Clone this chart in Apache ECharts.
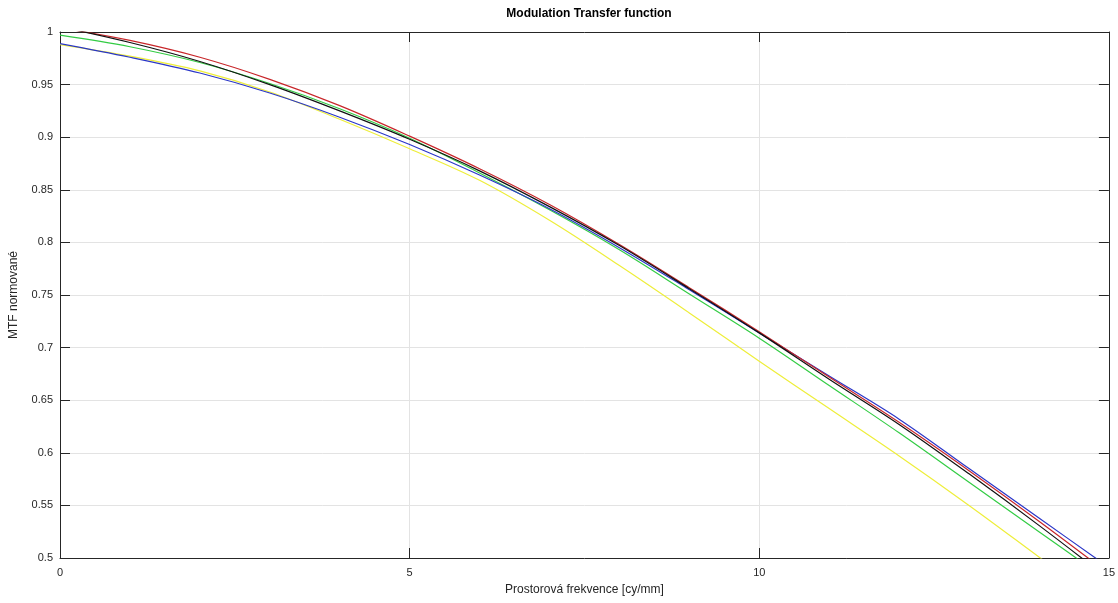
<!DOCTYPE html>
<html>
<head>
<meta charset="utf-8">
<script src="https://cdn.jsdelivr.net/npm/echarts@6/dist/echarts.min.js"></script>
<style>
html,body{margin:0;padding:0;background:#fff;}
#chart{width:1118px;height:603px;}
</style>
</head>
<body>
<div id="chart"></div>
<script>
var titleText = 'Modulation Transfer function';
var xAxisName = 'Prostorová frekvence [cy/mm]';
var yAxisName = 'MTF normované';

var freq = [0, 1, 2, 3, 4, 5, 6, 7, 8, 9, 10, 11, 12, 13, 14, 15];

var yellowMTF = [0.988, 0.977, 0.963, 0.943, 0.917, 0.889, 0.859, 0.821, 0.778, 0.733, 0.687, 0.642, 0.597, 0.550, 0.501, 0.452];
var greenMTF  = [0.997, 0.986, 0.971, 0.951, 0.927, 0.899, 0.866, 0.831, 0.793, 0.751, 0.709, 0.664, 0.619, 0.572, 0.525, 0.478];
var blueMTF   = [0.989, 0.976, 0.961, 0.942, 0.919, 0.893, 0.864, 0.832, 0.795, 0.755, 0.714, 0.673, 0.632, 0.585, 0.538, 0.491];
var redMTF    = [1.004, 0.992, 0.976, 0.955, 0.930, 0.901, 0.870, 0.836, 0.798, 0.757, 0.715, 0.672, 0.629, 0.583, 0.535, 0.485];
var blackMTF  = [1.005, 0.990, 0.972, 0.950, 0.925, 0.898, 0.868, 0.834, 0.797, 0.756, 0.714, 0.670, 0.627, 0.580, 0.531, 0.480];

var seriesNames  = ['yellow', 'green', 'blue', 'red', 'black'];
var seriesValues = [yellowMTF, greenMTF, blueMTF, redMTF, blackMTF];
var seriesColors = ['#eeee3a', '#33cc44', '#2a36c8', '#c8262a', '#111111'];

var xTicks = {min: 0, max: 15, interval: 5};
var yTicks = {min: 0.5, max: 1, interval: 0.05};

var font = '"Liberation Sans", Arial, Helvetica, sans-serif';
var axisColor = '#262626';

function pairs(vals) {
  return freq.map(function (x, i) { return [x, vals[i]]; });
}

var chart = echarts.init(document.getElementById('chart'), null, {renderer: 'canvas'});

var series = seriesNames.map(function (n, i) {
  return {
    name: n,
    type: 'line',
    xAxisIndex: 0,
    yAxisIndex: 0,
    data: pairs(seriesValues[i]),
    smooth: 0.35,
    showSymbol: false,
    symbol: 'none',
    clip: true,
    lineStyle: {color: seriesColors[i], width: 1.2},
    itemStyle: {color: seriesColors[i]},
    emphasis: {disabled: true},
    z: 3 + i
  };
});

chart.setOption({
  animation: false,
  backgroundColor: '#ffffff',
  textStyle: {fontFamily: font},
  title: {
    text: titleText,
    left: 584,
    textAlign: 'center',
    top: 3,
    textStyle: {fontSize: 12, fontWeight: 'bold', color: '#000', fontFamily: font}
  },
  grid: {left: 60, right: 9, top: 32, bottom: 45, containLabel: false},
  xAxis: [{
    type: 'value',
    position: 'bottom',
    min: xTicks.min, max: xTicks.max, interval: xTicks.interval,
    name: xAxisName,
    nameLocation: 'middle',
    nameGap: 26,
    nameTextStyle: {fontSize: 12, color: axisColor, fontFamily: font},
    axisLine: {show: true, onZero: false, lineStyle: {color: axisColor, width: 1}},
    axisTick: {show: true, inside: true, length: 10, lineStyle: {color: axisColor}},
    axisLabel: {show: true, margin: 9, fontSize: 11, color: axisColor, fontFamily: font},
    splitLine: {show: true, lineStyle: {color: '#e3e3e3', width: 1}}
  }, {
    type: 'value',
    position: 'top',
    min: xTicks.min, max: xTicks.max, interval: xTicks.interval,
    axisLine: {show: true, onZero: false, lineStyle: {color: axisColor, width: 1}},
    axisTick: {show: true, inside: true, length: 10, lineStyle: {color: axisColor}},
    axisLabel: {show: false},
    splitLine: {show: false}
  }],
  yAxis: [{
    type: 'value',
    position: 'left',
    min: yTicks.min, max: yTicks.max, interval: yTicks.interval,
    name: yAxisName,
    nameLocation: 'middle',
    nameGap: 40,
    nameRotate: 90,
    nameTextStyle: {fontSize: 12, color: axisColor, fontFamily: font},
    axisLine: {show: true, onZero: false, lineStyle: {color: axisColor, width: 1}},
    axisTick: {show: true, inside: true, length: 10, lineStyle: {color: axisColor}},
    axisLabel: {show: true, margin: 7, fontSize: 11, color: axisColor, fontFamily: font},
    splitLine: {show: true, lineStyle: {color: '#e3e3e3', width: 1}}
  }, {
    type: 'value',
    position: 'right',
    min: yTicks.min, max: yTicks.max, interval: yTicks.interval,
    axisLine: {show: true, onZero: false, lineStyle: {color: axisColor, width: 1}},
    axisTick: {show: true, inside: true, length: 10, lineStyle: {color: axisColor}},
    axisLabel: {show: false},
    splitLine: {show: false}
  }],
  series: series
});
</script>
</body>
</html>
